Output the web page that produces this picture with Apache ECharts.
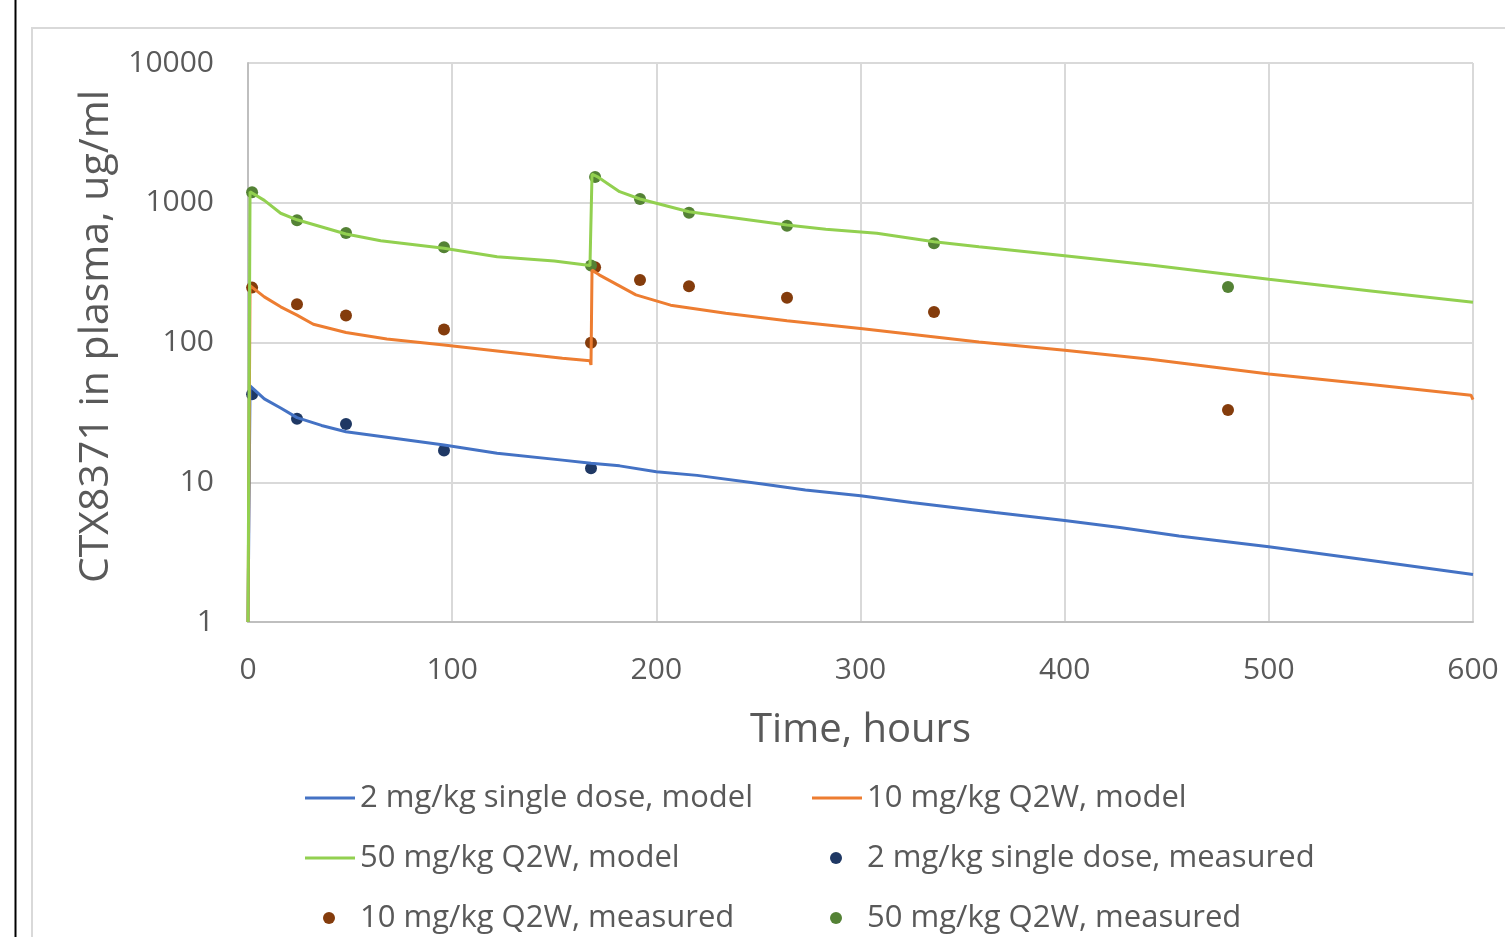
<!DOCTYPE html>
<html>
<head>
    <meta charset="utf-8">
    <title>CTX8371 plasma concentration</title>
    <style>
        html, body { margin: 0; padding: 0; background: #fff; }
        #main { width: 1505px; height: 937px; }
    </style>
</head>
<body>
<div id="main"></div>

<script src="https://cdn.jsdelivr.net/npm/echarts@6/dist/echarts.min.js"></script>
<script>
    // model curves, [hours, ug/ml]
    var model2 = [
        [0, 1], [1, 49], [8, 39.5], [16, 34], [24, 29], [36, 25.5], [48, 23], [68, 21],
        [96, 18.5], [122, 16.1], [154, 14.4], [168, 13.7], [182, 13.1], [200, 11.9],
        [220, 11.2], [252, 9.7], [273, 8.8], [300, 8.0], [325, 7.15], [366, 6.07],
        [400, 5.32], [427, 4.74], [456, 4.13], [500, 3.46], [550, 2.75], [600, 2.19]
    ];
    var model10 = [
        [0, 1], [1, 255], [8, 212], [16, 180], [24, 157], [32, 135], [48, 118], [68, 106],
        [96, 96], [122, 87], [154, 77], [167.5, 74], [168, 69], [168.5, 330],
        [172, 305], [190, 219], [207, 185], [234, 162], [264, 143], [300, 126],
        [358, 101], [400, 88], [442, 76], [500, 59.5], [550, 50], [599, 42], [600, 39]
    ];
    var model50 = [
        [0, 1], [1, 1200], [8, 1040], [16, 841], [24, 755], [48, 598], [65, 535],
        [96, 472], [122, 411], [150, 383], [167.5, 355], [168.5, 1600], [171, 1540],
        [182, 1200], [192, 1064], [200, 991], [216, 863], [234, 795], [264, 693],
        [283, 646], [308, 604], [336, 526], [358, 485], [400, 418], [442, 359],
        [500, 283], [550, 234], [600, 194]
    ];

    // measured points
    var hours2 = [2, 24, 48, 96, 168];
    var meas2 = [42.6, 28.5, 26.1, 16.9, 12.6];
    var hoursQ2W = [2, 24, 48, 96, 168, 170, 192, 216, 264, 336, 480];
    var meas10 = [247, 188, 156, 124, 99.7, 345, 280, 253, 209, 165, 32.9];
    var meas50 = [1188, 749, 608, 480, 355, 1528, 1064, 849, 685, 513, 250];

    var names = [
        '2 mg/kg single dose, model',
        '10 mg/kg Q2W, model',
        '50 mg/kg Q2W, model',
        '2 mg/kg single dose, measured',
        '10 mg/kg Q2W, measured',
        '50 mg/kg Q2W, measured'
    ];

    var font = 'Open Sans';
    var textColor = '#595959';

    var pairs = function (xs, ys) {
        var d = [];
        for (var i = 0; i < xs.length; i++) {
            d.push([xs[i], ys[i]]);
        }
        return d;
    };

    var lineSeries = function (name, data, color) {
        return {
            name: name,
            type: 'line',
            data: data,
            symbol: 'none',
            smooth: false,
            lineStyle: {color: color, width: 3},
            itemStyle: {color: color}
        };
    };

    var dotSeries = function (name, data, color) {
        return {
            name: name,
            type: 'scatter',
            data: data,
            symbol: 'circle',
            symbolSize: 12,
            itemStyle: {color: color, opacity: 1}
        };
    };

    // one legend per cell, so the two-column layout is exact
    var legendLine = function (name, left, top) {
        return {
            data: [{name: name, icon: 'rect'}],
            left: left,
            top: top,
            padding: 0,
            itemWidth: 50,
            itemHeight: 3,
            selectedMode: false,
            textStyle: {fontSize: 31, fontFamily: font, color: textColor, lineHeight: 36}
        };
    };
    var legendDot = function (name, left, top) {
        return {
            data: [{name: name, icon: 'circle'}],
            left: left,
            top: top,
            padding: 0,
            itemWidth: 12,
            itemHeight: 12,
            selectedMode: false,
            textStyle: {fontSize: 31, fontFamily: font, color: textColor, lineHeight: 36,
                padding: [0, 0, 0, 20]}
        };
    };

    var myChart = echarts.init(document.getElementById('main'), null, {renderer: 'canvas'});

    var option = {
        animation: false,
        backgroundColor: '#fff',
        graphic: [
            {
                type: 'rect',
                shape: {x: 32, y: 28, width: 1500, height: 1000},
                style: {fill: null, stroke: '#d9d9d9', lineWidth: 2},
                silent: true
            },
            {
                type: 'line',
                shape: {x1: 15.5, y1: 0, x2: 15.5, y2: 937},
                style: {stroke: '#000', lineWidth: 2},
                silent: true
            }
        ],
        grid: {left: 248, right: 32, top: 63, bottom: 315, containLabel: false},
        xAxis: {
            type: 'value',
            min: 0,
            max: 600,
            interval: 100,
            name: 'Time, hours',
            nameLocation: 'middle',
            nameGap: 89,
            nameTextStyle: {fontSize: 40, fontFamily: font, color: textColor},
            axisLine: {show: true, lineStyle: {color: '#bfbfbf', width: 2}},
            axisTick: {show: false},
            axisLabel: {fontSize: 30, fontFamily: font, color: textColor, margin: 33},
            splitLine: {show: true, lineStyle: {color: '#d9d9d9', width: 2}}
        },
        yAxis: {
            type: 'log',
            logBase: 10,
            min: 1,
            max: 10000,
            name: 'CTX8371 in plasma, ug/ml',
            nameLocation: 'middle',
            nameRotate: 90,
            nameGap: 131,
            nameTextStyle: {fontSize: 41, fontFamily: font, color: textColor,
                padding: [0, 0, 0, 12]},
            axisLine: {show: true, lineStyle: {color: '#bfbfbf', width: 2}},
            axisTick: {show: false},
            axisLabel: {
                fontSize: 30, fontFamily: font, color: textColor, margin: 34,
                formatter: function (v) { return String(Math.round(v)); }
            },
            splitLine: {show: true, lineStyle: {color: '#d9d9d9', width: 2}}
        },
        legend: [
            legendLine(names[0], 305, 780),
            legendLine(names[1], 812, 780),
            legendLine(names[2], 305, 840),
            legendDot(names[3], 830, 840),
            legendDot(names[4], 323, 900),
            legendDot(names[5], 830, 900)
        ],
        series: [
            lineSeries(names[0], model2, '#4472c4'),
            lineSeries(names[1], model10, '#ed7d31'),
            lineSeries(names[2], model50, '#92d050'),
            dotSeries(names[3], pairs(hours2, meas2), '#1f3864'),
            dotSeries(names[4], pairs(hoursQ2W, meas10), '#843c0c'),
            dotSeries(names[5], pairs(hoursQ2W, meas50), '#548235')
        ]
    };

    myChart.setOption(option);
</script>
</body>
</html>
